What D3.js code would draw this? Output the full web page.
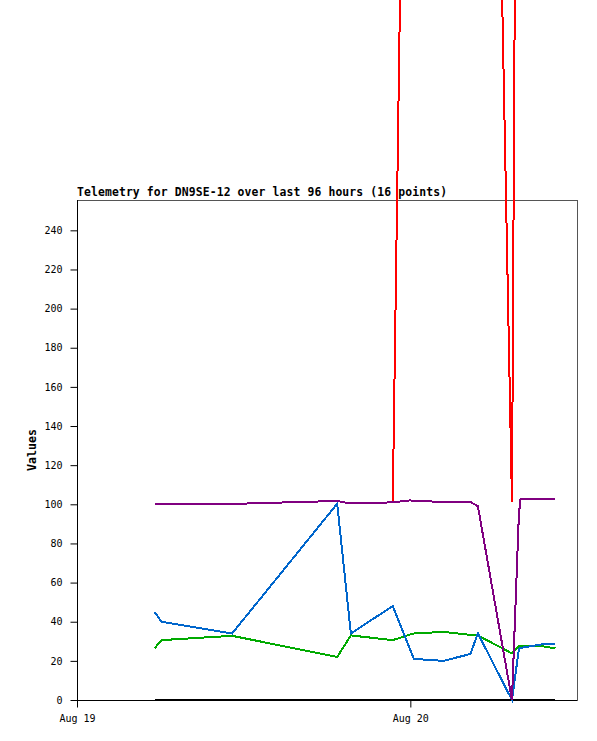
<!DOCTYPE html>
<html>
<head>
<meta charset="utf-8">
<script src="https://cdn.jsdelivr.net/npm/d3@7"></script>
<style>
  html, body { margin: 0; padding: 0; background: #fff; }
  svg { display: block; }
  text { font-family: "DejaVu Sans Mono", "Liberation Mono", monospace; }
</style>
</head>
<body>
<svg id="chart" width="597" height="741"></svg>
<script>
// ---- data ----
const title = "Telemetry for DN9SE-12 over last 96 hours (16 points)";
const yLabel = "Values";
const times = [
  "2023-08-19T05:35", "2023-08-19T06:05", "2023-08-19T11:10", "2023-08-19T18:44",
  "2023-08-19T19:43", "2023-08-19T22:44", "2023-08-20T00:00", "2023-08-20T00:15",
  "2023-08-20T02:23", "2023-08-20T04:19", "2023-08-20T04:52", "2023-08-20T07:19",
  "2023-08-20T07:49", "2023-08-20T07:56", "2023-08-20T09:35", "2023-08-20T10:27"
];
const seriesBlack  = [0, 0, 0, 0, 0, 0, 0, 0, 0, 0, 0, 0, 0, 0, 0, 0];
const seriesGreen  = [26.4, 30.6, 32.8, 22, 33, 30.6, 33.5, 34, 34.8, 33.3, 33, 23.8, 27.7, 27.7, 27.4, 26.4];
const seriesBlue   = [45, 40, 34, 100.3, 34, 48, 25.5, 21, 20, 23.5, 34, 0, 26, 26.6, 28.6, 28.6];
const seriesRed    = [null, null, null, null, null, 101, null, null, 1900, null, null, 101, null, null, null, 4100];
const seriesPurple = [100, 100, 100.2, 101.7, 100.4, 101, 102, 101.8, 101.2, 101.2, 99, 0, 95, 102.5, 102.5, 102.5];
const yTicks = [0, 20, 40, 60, 80, 100, 120, 140, 160, 180, 200, 220, 240];
const xTicks = ["2023-08-19T00:00", "2023-08-20T00:00"];
const xDomain = ["2023-08-19T00:00", "2023-08-20T12:00"];
const yDomain = [0, 255.5];

const seriesList = [
  { values: seriesBlack,  color: "#000000" },
  { values: seriesGreen,  color: "#00aa00" },
  { values: seriesBlue,   color: "#0066cc" },
  { values: seriesRed,    color: "#ff0000" },
  { values: seriesPurple, color: "#800080" }
];

// ---- layout ----
const svg = d3.select("#chart");
const L = 77, R = 577, T = 200, B = 700;
const parse = d3.timeParse("%Y-%m-%dT%H:%M");
const x = d3.scaleTime().domain(xDomain.map(parse)).range([L, R]);
const y = d3.scaleLinear().domain(yDomain).range([B, T]);

// frame
svg.append("rect")
  .attr("x", L + 0.5).attr("y", T + 0.5)
  .attr("width", R - L).attr("height", B - T)
  .attr("fill", "none").attr("stroke", "#555").attr("stroke-width", 1);

// y axis
const yAxis = d3.axisLeft(y).tickValues(yTicks).tickSize(7).tickPadding(8).tickFormat(d3.format("d"));
const gy = svg.append("g").attr("transform", `translate(${L + 0.5},0)`).call(yAxis);
gy.select(".domain").attr("d", `M0,${T}V${B + 0.5}`).attr("stroke", "#000");
gy.selectAll(".tick line").attr("stroke", "#000");
gy.selectAll(".tick text").attr("font-size", "10px").attr("fill", "#000")
  .style("font-family", '"DejaVu Sans Mono", monospace');

// x axis
const xAxis = d3.axisBottom(x).tickValues(xTicks.map(parse)).tickSize(7).tickPadding(7)
  .tickFormat(d3.timeFormat("%b %d"));
const gx = svg.append("g").attr("transform", `translate(0,${B + 0.5})`).call(xAxis);
gx.select(".domain").attr("d", `M${L},0H${R}`).attr("stroke", "#000");
gx.selectAll(".tick line").attr("stroke", "#000");
gx.selectAll(".tick text").attr("font-size", "10px").attr("fill", "#000")
  .style("font-family", '"DejaVu Sans Mono", monospace');

// series
const line = d3.line().x(d => x(d.t)).y(d => y(d.v));
seriesList.forEach(s => {
  const pts = times.map((t, i) => ({ t: parse(t), v: s.values[i] })).filter(d => d.v !== null);
  svg.append("path")
    .datum(pts)
    .attr("d", line)
    .attr("fill", "none")
    .attr("stroke", s.color)
    .attr("stroke-width", 2)
    .attr("stroke-linejoin", "miter")
    .attr("shape-rendering", "crispEdges");
});

// title
svg.append("text")
  .attr("x", L).attr("y", 196)
  .attr("font-size", "11.4px").attr("font-weight", "bold").attr("fill", "#000")
  .attr("textLength", 370).attr("lengthAdjust", "spacing")
  .text(title);

// y label
svg.append("text")
  .attr("transform", `translate(36,${(T + B) / 2}) rotate(-90)`)
  .attr("text-anchor", "middle")
  .attr("font-size", "11.6px").attr("font-weight", "bold").attr("fill", "#000")
  .text(yLabel);
</script>
</body>
</html>
